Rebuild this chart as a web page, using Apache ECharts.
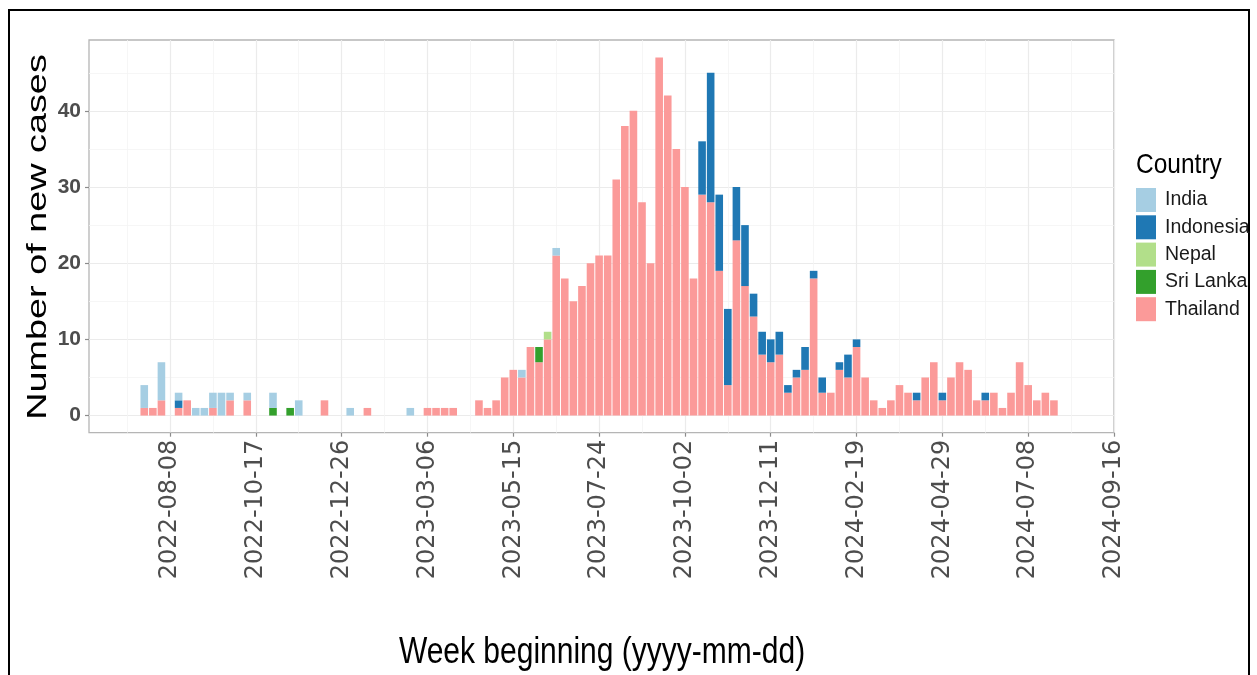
<!DOCTYPE html>
<html><head><meta charset="utf-8">
<script src="https://cdn.jsdelivr.net/npm/echarts@6/dist/echarts.min.js"></script>
<style>html,body{margin:0;padding:0;background:#fff;}#c{width:1257px;height:675px;}</style>
</head><body><div id="c"></div>
<script>
// Week beginning dates (categories)
const weeks = [
 '2022-07-18','2022-07-25','2022-08-01','2022-08-08','2022-08-15','2022-08-22','2022-08-29','2022-09-05','2022-09-12','2022-09-19',
 '2022-09-26','2022-10-03','2022-10-10','2022-10-17','2022-10-24','2022-10-31','2022-11-07','2022-11-14','2022-11-21','2022-11-28',
 '2022-12-05','2022-12-12','2022-12-19','2022-12-26','2023-01-02','2023-01-09','2023-01-16','2023-01-23','2023-01-30','2023-02-06',
 '2023-02-13','2023-02-20','2023-02-27','2023-03-06','2023-03-13','2023-03-20','2023-03-27','2023-04-03','2023-04-10','2023-04-17',
 '2023-04-24','2023-05-01','2023-05-08','2023-05-15','2023-05-22','2023-05-29','2023-06-05','2023-06-12','2023-06-19','2023-06-26',
 '2023-07-03','2023-07-10','2023-07-17','2023-07-24','2023-07-31','2023-08-07','2023-08-14','2023-08-21','2023-08-28','2023-09-04',
 '2023-09-11','2023-09-18','2023-09-25','2023-10-02','2023-10-09','2023-10-16','2023-10-23','2023-10-30','2023-11-06','2023-11-13',
 '2023-11-20','2023-11-27','2023-12-04','2023-12-11','2023-12-18','2023-12-25','2024-01-01','2024-01-08','2024-01-15','2024-01-22',
 '2024-01-29','2024-02-05','2024-02-12','2024-02-19','2024-02-26','2024-03-04','2024-03-11','2024-03-18','2024-03-25','2024-04-01',
 '2024-04-08','2024-04-15','2024-04-22','2024-04-29','2024-05-06','2024-05-13','2024-05-20','2024-05-27','2024-06-03','2024-06-10',
 '2024-06-17','2024-06-24','2024-07-01','2024-07-08','2024-07-15','2024-07-22','2024-07-29'
];
const thailand = [
 1,1,2,0,1,2,0,0,1,0,
 2,0,2,0,0,0,0,0,0,0,
 0,2,0,0,0,0,1,0,0,0,
 0,0,0,1,1,1,1,0,0,2,
 1,2,5,6,5,9,7,10,21,18,
 15,17,20,21,21,31,38,40,28,20,
 47,42,35,30,18,29,28,19,4,23,
 17,13,8,7,8,3,5,6,18,3,
 3,6,5,9,5,2,1,2,4,3,
 2,5,7,2,5,7,6,2,2,3,
 1,3,7,4,2,3,2
];
const india = [
 3,0,5,0,1,0,1,1,2,3,
 1,0,1,0,0,2,0,0,2,0,
 0,0,0,0,1,0,0,0,0,0,
 0,1,0,0,0,0,0,0,0,0,
 0,0,0,0,1,0,0,0,1,0,
 0,0,0,0,0,0,0,0,0,0,
 0,0,0,0,0,0,0,0,0,0,
 0,0,0,0,0,0,0,0,0,0,
 0,0,0,0,0,0,0,0,0,0,
 0,0,0,0,0,0,0,0,0,0,
 0,0,0,0,0,0,0
];
const indonesia = [
 0,0,0,0,1,0,0,0,0,0,
 0,0,0,0,0,0,0,0,0,0,
 0,0,0,0,0,0,0,0,0,0,
 0,0,0,0,0,0,0,0,0,0,
 0,0,0,0,0,0,0,0,0,0,
 0,0,0,0,0,0,0,0,0,0,
 0,0,0,0,0,7,17,10,10,7,
 8,3,3,3,3,1,1,3,1,2,
 0,1,3,1,0,0,0,0,0,0,
 1,0,0,1,0,0,0,0,1,0,
 0,0,0,0,0,0,0
];
const nepal = [
 0,0,0,0,0,0,0,0,0,0,
 0,0,0,0,0,0,0,0,0,0,
 0,0,0,0,0,0,0,0,0,0,
 0,0,0,0,0,0,0,0,0,0,
 0,0,0,0,0,0,0,1,0,0,
 0,0,0,0,0,0,0,0,0,0,
 0,0,0,0,0,0,0,0,0,0,
 0,0,0,0,0,0,0,0,0,0,
 0,0,0,0,0,0,0,0,0,0,
 0,0,0,0,0,0,0,0,0,0,
 0,0,0,0,0,0,0
];
const sriLanka = [
 0,0,0,0,0,0,0,0,0,0,
 0,0,0,0,0,1,0,1,0,0,
 0,0,0,0,0,0,0,0,0,0,
 0,0,0,0,0,0,0,0,0,0,
 0,0,0,0,0,0,2,0,0,0,
 0,0,0,0,0,0,0,0,0,0,
 0,0,0,0,0,0,0,0,0,0,
 0,0,0,0,0,0,0,0,0,0,
 0,0,0,0,0,0,0,0,0,0,
 0,0,0,0,0,0,0,0,0,0,
 0,0,0,0,0,0,0
];
const xTickLabels = ['2022-08-08','2022-10-17','2022-12-26','2023-03-06','2023-05-15','2023-07-24','2023-10-02','2023-12-11','2024-02-19','2024-04-29','2024-07-08','2024-09-16'];
const xMinorDates = ['2022-07-04','2022-09-12','2022-11-21','2023-01-30','2023-04-10','2023-06-19','2023-08-28','2023-11-06','2024-01-15','2024-03-25','2024-06-03','2024-08-12'];
const yTicks = [0,10,20,30,40];
const yMinor = [5,15,25,35,45];
const countries = ['India','Indonesia','Nepal','Sri Lanka','Thailand'];
const colors = {'India':'#a6cee3','Indonesia':'#1f78b4','Nepal':'#b2df8a','Sri Lanka':'#33a02c','Thailand':'#fb9a99'};

const origin = Date.parse('2022-08-08');
const toX = d => Math.round((Date.parse(d) - origin) / 604800000);
const majorX = xTickLabels.map(toX);
const minorX = xMinorDates.map(toX);
const labelOf = {};
xTickLabels.forEach(d => { labelOf[toX(d)] = d; });

const seriesData = {'Thailand':thailand,'Sri Lanka':sriLanka,'Nepal':nepal,'Indonesia':indonesia,'India':india};
const stackOrder = ['Thailand','Sri Lanka','Nepal','Indonesia','India'];

// panel geometry
const PL = 89, PT = 40, PW = 1025, PH = 392.7;
const XMIN = -9.44, XMAX = 110, YMIN = -2.25, YMAX = 49.3;
const pxPerWeek = PW / (XMAX - XMIN);
const firstW = toX(weeks[0]), lastW = toX(weeks[weeks.length - 1]);
const barGridLeft = PL + (firstW - XMIN) * pxPerWeek;
const barGridWidth = (lastW - firstW) * pxPerWeek;

const chart = echarts.init(document.getElementById('c'), null, {renderer:'canvas'});
chart.setOption({
  animation:false,
  backgroundColor:'#ffffff',
  grid:[
    {left:PL, top:PT, width:PW, height:PH, show:true, borderColor:'#b5b5b5', borderWidth:1.3, backgroundColor:'transparent', containLabel:false},
    {left:barGridLeft, top:PT, width:barGridWidth, height:PH, show:false, containLabel:false}
  ],
  legend:{
    data:countries, orient:'vertical', left:1136, top:188, itemWidth:20, itemHeight:24, itemGap:3.3,
    icon:'rect', selectedMode:false, padding:0,
    textStyle:{fontFamily:'Liberation Sans', fontSize:19.5, color:'#1a1a1a', padding:[0,0,0,4]}
  },
  xAxis:[{
    gridIndex:0, type:'value', min:XMIN, max:XMAX, position:'bottom',
    axisLine:{show:false, onZero:false},
    axisTick:{show:true, customValues:majorX, length:4, lineStyle:{color:'#8c8c8c', width:1.2}},
    axisLabel:{customValues:majorX, rotate:90, margin:7, fontFamily:'DejaVu Sans', fontSize:24, color:'#4d4d4d',
      formatter:v => labelOf[Math.round(v)] || ''},
    splitLine:{show:true, lineStyle:{color:'#ebebeb', width:1.2}}
  },{
    gridIndex:0, type:'value', min:XMIN, max:XMAX, position:'top',
    axisLine:{show:false, onZero:false}, axisTick:{show:false, customValues:minorX}, axisLabel:{show:false, customValues:minorX},
    splitLine:{show:true, lineStyle:{color:'#f4f4f4', width:0.8}}
  },{
    gridIndex:1, type:'category', data:weeks, boundaryGap:false, show:false
  }],
  yAxis:[{
    gridIndex:0, type:'value', min:YMIN, max:YMAX, position:'left',
    axisLine:{show:false, onZero:false},
    axisTick:{show:true, customValues:yTicks, length:4, lineStyle:{color:'#8c8c8c', width:1.2}},
    axisLabel:{customValues:yTicks, margin:8, fontFamily:'Liberation Sans', fontWeight:'bold', fontSize:21, color:'#4d4d4d'},
    splitLine:{show:true, lineStyle:{color:'#ebebeb', width:1.2}}
  },{
    gridIndex:0, type:'value', min:YMIN, max:YMAX, position:'right',
    axisLine:{show:false, onZero:false}, axisTick:{show:false, customValues:yMinor}, axisLabel:{show:false, customValues:yMinor},
    splitLine:{show:true, lineStyle:{color:'#f4f4f4', width:0.8}}
  },{
    gridIndex:1, type:'value', min:YMIN, max:YMAX, show:false
  }],
  series: stackOrder.map(name => ({
    name, type:'bar', stack:'cases', xAxisIndex:2, yAxisIndex:2, barWidth:7.6, clip:false,
    itemStyle:{color:colors[name]}, emphasis:{disabled:true},
    data: seriesData[name]
  })),
  graphic:[
    {type:'rect', shape:{x:9, y:10, width:1240, height:700}, style:{fill:'none', stroke:'#000', lineWidth:2}, silent:true},
    {type:'text', x:38, y:237, rotation:Math.PI/2, scaleX:1.35,
      style:{text:'Number of new cases', fontFamily:'Liberation Sans', fontSize:28, fill:'#000', align:'center', verticalAlign:'middle'}},
    {type:'text', x:602, y:653, scaleY:1.2,
      style:{text:'Week beginning (yyyy-mm-dd)', fontFamily:'Liberation Sans', fontSize:30, fill:'#000', align:'center', verticalAlign:'middle'}},
    {type:'text', x:1136, y:165, scaleY:1.15,
      style:{text:'Country', fontFamily:'Liberation Sans', fontSize:24.5, fill:'#000', align:'left', verticalAlign:'middle'}}
  ]
});
</script>
</body></html>
